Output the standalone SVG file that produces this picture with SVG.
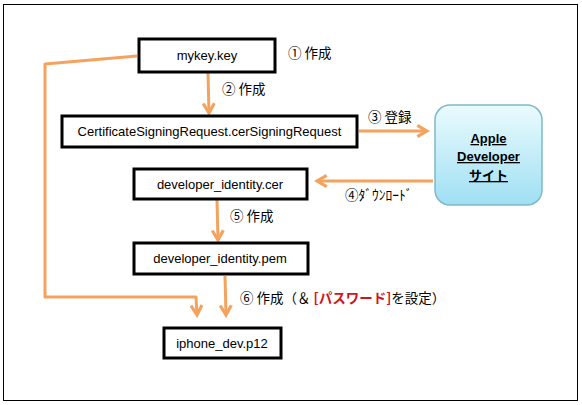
<svg xmlns="http://www.w3.org/2000/svg" width="582" height="405" viewBox="0 0 582 405">
<style>
.box{fill:#fff;stroke:#000;stroke-width:3}
.t{font-family:"Liberation Sans","Noto Sans CJK JP",sans-serif;font-size:13px;fill:#000}
.j{font-family:"Noto Sans CJK JP","Liberation Sans",sans-serif;font-size:13.5px;fill:#000}
.c{fill:none;stroke:#F4A35E;stroke-width:3;stroke-linejoin:round}
.a{font-family:"Liberation Sans","Noto Sans CJK JP",sans-serif;font-size:13px;font-weight:bold;fill:#000;text-decoration:underline}
</style>
<defs>
<marker id="ah" viewBox="0 0 10 10" refX="8" refY="5" markerWidth="4.6" markerHeight="4.6" orient="auto" markerUnits="strokeWidth">
<path d="M1,1 L8,5 L1,9" fill="none" stroke="#F4A35E" stroke-width="2.3" stroke-linejoin="miter"/>
</marker>
<linearGradient id="g" x1="0" y1="0" x2="0" y2="1">
<stop offset="0" stop-color="#eafbfe"/>
<stop offset="1" stop-color="#9fdff3"/>
</linearGradient>
</defs>
<rect x="3.5" y="4.5" width="574" height="396" fill="#fff" stroke="#000" stroke-width="1"/>
<g id="connectors">
<path class="c" d="M208,73 L209,113" marker-end="url(#ah)"/>
<path class="c" d="M359,131 L427,131" marker-end="url(#ah)"/>
<path class="c" d="M433,181 L317,181" marker-end="url(#ah)"/>
<path class="c" d="M217,200 L218,240" marker-end="url(#ah)"/>
<path class="c" d="M225,276 L226,315" marker-end="url(#ah)"/>
<path class="c" d="M137,56 L45,64 L45,297 L196,297 L197,315" marker-end="url(#ah)"/>
</g>
<g id="labels">
<text class="j" x="288" y="58">① 作成</text>
<text class="j" x="222" y="94">② 作成</text>
<text class="j" x="368" y="122">③ 登録</text>
<text class="j" x="345" y="200" font-size="12">④ﾀﾞｳﾝﾛｰﾄﾞ</text>
<text class="j" x="230" y="221">⑤ 作成</text>
<text class="j" x="240" y="303">⑥ 作成（＆ <tspan fill="#d0141e" font-weight="bold">[パスワード]</tspan>を設定）</text>
</g>
<g id="mykey">
<rect class="box" x="139" y="39" width="136" height="33"/>
<text class="t" x="207" y="60" text-anchor="middle">mykey.key</text>
</g>
<g id="csr">
<rect class="box" x="62" y="116" width="295" height="31"/>
<text class="t" x="209.5" y="136" text-anchor="middle">CertificateSigningRequest.cerSigningRequest</text>
</g>
<g id="apple">
<rect x="435" y="105" width="107" height="100" rx="15" fill="url(#g)" stroke="#7fb9c9" stroke-width="1.5"/>
<text class="a" x="488.5" y="143" text-anchor="middle">Apple</text>
<text class="a" x="488.5" y="161" text-anchor="middle">Developer</text>
<text class="a" x="488.5" y="180" text-anchor="middle" font-family="Noto Sans CJK JP,sans-serif">サイト</text>
</g>
<g id="cer">
<rect class="box" x="134" y="169" width="173" height="30"/>
<text class="t" x="220" y="189" text-anchor="middle">developer_identity.cer</text>
</g>
<g id="pem">
<rect class="box" x="134" y="243" width="174" height="31"/>
<text class="t" x="220" y="263" text-anchor="middle">developer_identity.pem</text>
</g>
<g id="p12">
<rect class="box" x="164" y="328" width="117" height="30"/>
<text class="t" x="222" y="348" text-anchor="middle">iphone_dev.p12</text>
</g>
</svg>
